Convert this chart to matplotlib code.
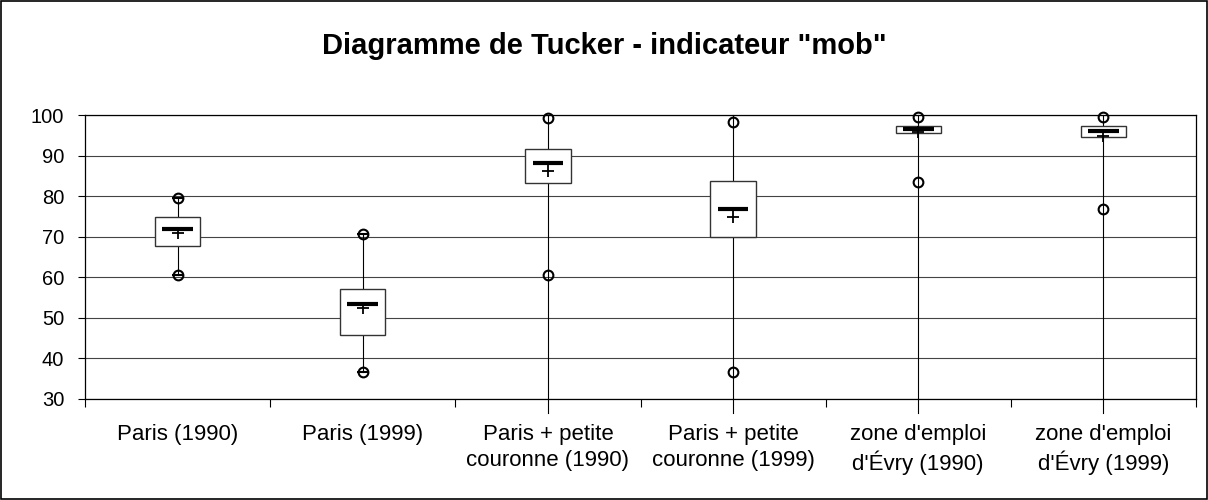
import matplotlib
matplotlib.use('Agg')
import matplotlib.pyplot as plt
from matplotlib.patches import Rectangle

plt.rcParams['font.family'] = ['Liberation Sans', 'DejaVu Sans']

# Tucker diagram values per zone (indicator "mob")
labels = ["Paris (1990)", "Paris (1999)", "Paris + petite\ncouronne (1990)",
          "Paris + petite\ncouronne (1999)", "zone d'emploi\nd'Évry (1990)",
          "zone d'emploi\nd'Évry (1999)"]
q1 = [67.7, 45.7, 83.2, 70.0, 95.5, 94.5]
median = [72.0, 53.5, 88.2, 76.8, 96.5, 96.1]
q3 = [74.8, 57.2, 91.5, 83.65, 97.3, 97.3]
mean = [70.8, 52.4, 86.3, 74.9, 95.9, 94.8]
vmin = [60.5, 36.7, 60.6, 36.7, 83.5, 76.8]
vmax = [79.5, 70.6, 99.3, 98.3, 99.4, 99.4]
# vertical range lines (the last four run past the plot area)
line_lo = [60.5, 36.7, 26.5, 26.5, 26.5, 26.5]
line_hi = [79.5, 70.6, 100, 100, 100, 100]
capped = [True, True, False, False, False, False]

fig = plt.figure(figsize=(12.08, 5.0), dpi=100)
ax = fig.add_axes([85 / 1208, 1 - 399 / 500, 1111 / 1208, 284 / 500])

xs = list(range(len(labels)))
box_w = 0.245
med_w = 0.165

for i in xs:
    ax.plot([i, i], [line_lo[i], line_hi[i]], color='black', lw=0.8,
            zorder=2, clip_on=False)
    ax.add_patch(Rectangle((i - box_w / 2, q1[i]), box_w, q3[i] - q1[i],
                           facecolor='white', edgecolor='#333333', lw=1.0, zorder=3))
    ax.plot([i - med_w / 2, i + med_w / 2], [median[i], median[i]],
            color='black', lw=3, solid_capstyle='butt', zorder=4)
    ax.plot(i, mean[i], marker='+', color='black', ms=8.5, mew=1.3, zorder=4)
    ax.plot([i, i], [vmin[i], vmax[i]], ls='none', marker='o', ms=7,
            mfc='none', mec='black', mew=1.5, zorder=5, clip_on=False)
    if capped[i]:
        ax.plot([i, i], [vmin[i], vmax[i]], ls='none', marker='_', ms=8,
                color='black', mew=1.5, zorder=5, clip_on=False)

ax.set_xlim(-0.5, len(labels) - 0.5)
ax.set_ylim(30, 100)
ax.set_yticks(range(30, 101, 10))
ax.yaxis.grid(True, color='#444444', lw=0.8)
ax.set_axisbelow(True)

ax.set_xticks([x - 0.5 for x in range(len(labels) + 1)])
ax.set_xticklabels([])
ax.set_xticks(xs, minor=True)
ax.set_xticklabels(labels, minor=True, fontsize=16, linespacing=1.3)
ax.tick_params(axis='x', which='major', direction='out', length=6, width=0.8)
ax.tick_params(axis='x', which='minor', length=0, pad=18)
ax.tick_params(axis='y', direction='out', length=5, width=0.8, labelsize=14.5, pad=10)

for s in ax.spines.values():
    s.set_color('black')
    s.set_linewidth(0.9)

fig.suptitle('Diagramme de Tucker - indicateur "mob"', fontsize=21,
             fontweight='bold', y=1 - 46 / 500, va='center')

fig.patches.append(Rectangle((0.001, 0.002), 0.998, 0.996, transform=fig.transFigure,
                             fill=False, edgecolor='black', lw=1.2))

fig.savefig('out.png', dpi=100)
